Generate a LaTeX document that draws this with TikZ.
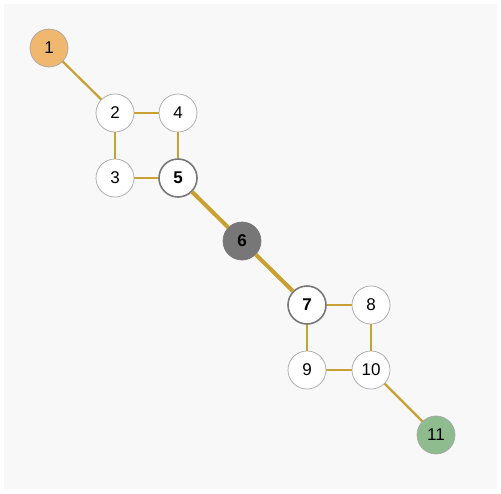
\documentclass[tikz,border=0pt]{standalone}
\usepackage{fontspec}
\setmainfont{Liberation Sans}
\usepackage{tikz}
\usetikzlibrary{positioning}
\usepackage{xcolor}

\definecolor{edgegold}{RGB}{201,160,50}
\definecolor{startorange}{RGB}{240,184,110}
\definecolor{endgreen}{RGB}{143,188,143}
\definecolor{cutgray}{RGB}{119,119,119}
\definecolor{bggray}{RGB}{248,248,248}

\begin{document}
\begin{tikzpicture}[
    x=1pt, y=-1pt,
    vertex/.style={draw=gray!70, circle, fill=white, minimum size=38pt, inner sep=0pt, line width=0.7pt, font=\fontsize{17}{20}\selectfont},
    cutvertex/.style={vertex, draw=cutgray, line width=1.6pt, font=\fontsize{17}{20}\selectfont\bfseries},
    edge/.style={edgegold, line width=2.2pt},
    bridge/.style={edgegold, line width=4pt}
]

% Fond
\useasboundingbox (0,0) rectangle (501,493);
\fill[bggray] (4,4) rectangle (497,489);

% Sommets
\node[vertex, fill=startorange] (v1) at (49,48) {1};
\node[vertex] (v2) at (115,113) {2};
\node[vertex] (v4) at (178,113) {4};
\node[vertex] (v3) at (115,178) {3};
\node[cutvertex] (v5) at (178,178) {5};
\node[vertex, draw=cutgray, fill=cutgray, font=\fontsize{17}{20}\selectfont\bfseries] (v6) at (242,241) {6};
\node[cutvertex] (v7) at (307,305) {7};
\node[vertex] (v8) at (371,305) {8};
\node[vertex] (v9) at (307,370) {9};
\node[vertex] (v10) at (371,370) {10};
\node[vertex, fill=endgreen] (v11) at (436,435) {11};

% Aretes
\draw[edge] (v1) -- (v2);
\draw[edge] (v2) -- (v4);
\draw[edge] (v2) -- (v3);
\draw[edge] (v4) -- (v5);
\draw[edge] (v3) -- (v5);
\draw[bridge] (v5) -- (v6);
\draw[bridge] (v6) -- (v7);
\draw[edge] (v7) -- (v8);
\draw[edge] (v7) -- (v9);
\draw[edge] (v8) -- (v10);
\draw[edge] (v9) -- (v10);
\draw[edge] (v10) -- (v11);

\end{tikzpicture}
\end{document}
